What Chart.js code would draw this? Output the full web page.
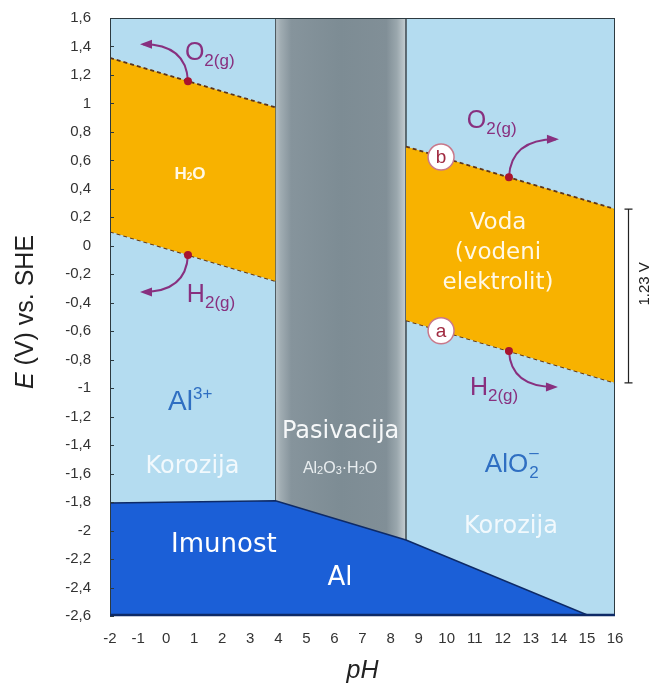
<!DOCTYPE html>
<html>
<head>
<meta charset="utf-8">
<script src="https://cdn.jsdelivr.net/npm/chart.js@4.4.1/dist/chart.umd.min.js"></script>
<style>
html,body{margin:0;padding:0;background:#fff;}
canvas{display:block;}
</style>
</head>
<body>
<canvas id="c" width="657" height="684"></canvas>
<script>
// ---- data ----
const phTicks = [-2,-1,0,1,2,3,4,5,6,7,8,9,10,11,12,13,14,15,16];
const eTicks = [-2.6,-2.4,-2.2,-2,-1.8,-1.6,-1.4,-1.2,-1,-0.8,-0.6,-0.4,-0.2,0,0.2,0.4,0.6,0.8,1,1.2,1.4,1.6];
const eTickLabels = ['-2,6','-2,4','-2,2','-2','-1,8','-1,6','-1,4','-1,2','-1','-0,8','-0,6','-0,4','-0,2','0','0,2','0,4','0,6','0,8','1','1,2','1,4','1,6'];

const passivPH = [3.9, 8.55];          // Al2O3·H2O passivation band edges
const waterLeftPH = [-2, 3.9];
const o2Left = [1.32, 0.972];          // line b (O2 / H2O)
const h2Left = [0.10, -0.248];         // line a (H2 / H2O)
const waterRightPH = [8.55, 16];
const o2Right = [0.697, 0.258];
const h2Right = [-0.523, -0.962];
const immunPH = [-2, 3.9, 8.55, 15.1, 16];
const immunE = [-1.806, -1.79, -2.066, -2.6, -2.6];

const E_MIN = -2.6, E_MAX = 1.6, PH_MIN = -2, PH_MAX = 16;

const pts = (xs, ys) => xs.map((x, i) => ({x, y: ys[i]}));
const lineAt = (xs, ys, x) => ys[0] + (ys[1]-ys[0])*(x-xs[0])/(xs[1]-xs[0]);

const C = {
  lightBlue: '#b4dcf0', orange: '#f8b200', darkBlue: '#1b5fd7', navy: '#0e2a66',
  dash: '#5e3519', purple: '#88307f', dot: '#a8142e', gray: '#7d8c94'
};

function passivGradient(context){
  const chart = context.chart;
  const ca = chart.chartArea;
  if (!ca) return C.gray;
  const xs = chart.scales.x;
  const x0 = xs.getPixelForValue(passivPH[0]), x1 = xs.getPixelForValue(passivPH[1]);
  const g = chart.ctx.createLinearGradient(x0, 0, x1, 0);
  g.addColorStop(0, '#b8c3c8');
  g.addColorStop(0.04, '#a0acb2');
  g.addColorStop(0.12, '#86949c');
  g.addColorStop(0.5, '#7d8c94');
  g.addColorStop(0.85, '#818f97');
  g.addColorStop(0.93, '#9aa7ad');
  g.addColorStop(1, '#c6cfd3');
  return g;
}

// ---- helpers for annotation text ----
function richText(ctx, x, y, parts, align){
  // parts: [text, fontSizePx, dyPx, family, weight]
  let w = 0;
  parts.forEach(p => { ctx.font = `${p[4]||'normal'} ${p[1]}px ${p[3]||'"Liberation Sans", Arial, sans-serif'}`; p.w = ctx.measureText(p[0]).width; w += p.w; });
  let cx = align === 'center' ? x - w/2 : (align === 'right' ? x - w : x);
  ctx.textAlign = 'left';
  ctx.textBaseline = 'alphabetic';
  parts.forEach(p => {
    ctx.font = `${p[4]||'normal'} ${p[1]}px ${p[3]||'"Liberation Sans", Arial, sans-serif'}`;
    ctx.fillText(p[0], cx, y + (p[2]||0));
    cx += p.w;
  });
}

function arrow(ctx, sx, sy, cx, cy, ex, ey, color){
  ctx.save();
  ctx.strokeStyle = color; ctx.fillStyle = color; ctx.lineWidth = 2;
  ctx.beginPath(); ctx.moveTo(sx, sy); ctx.quadraticCurveTo(cx, cy, ex, ey); ctx.stroke();
  const a = Math.atan2(ey - cy, ex - cx);
  const L = 9, W = 4.5;
  ctx.beginPath();
  ctx.moveTo(ex + Math.cos(a)*3, ey + Math.sin(a)*3);
  ctx.lineTo(ex - Math.cos(a)*L + Math.sin(a)*W, ey - Math.sin(a)*L - Math.cos(a)*W);
  ctx.lineTo(ex - Math.cos(a)*L - Math.sin(a)*W, ey - Math.sin(a)*L + Math.cos(a)*W);
  ctx.closePath(); ctx.fill();
  ctx.restore();
}

const bgPlugin = {
  id: 'bg',
  beforeDatasetsDraw(chart){
    const {ctx, chartArea: a} = chart;
    ctx.save();
    ctx.fillStyle = C.lightBlue;
    ctx.fillRect(a.left, a.top, a.right - a.left, a.bottom - a.top);
    ctx.restore();
  }
};

const annPlugin = {
  id: 'ann',
  afterDatasetsDraw(chart){
    const {ctx, chartArea: a} = chart;
    const X = v => chart.scales.x.getPixelForValue(v);
    const Y = v => chart.scales.y.getPixelForValue(v);
    ctx.save();

    // frame
    ctx.strokeStyle = '#2d3a40'; ctx.lineWidth = 1;
    ctx.strokeRect(a.left + 0.5, a.top + 0.5, a.right - a.left - 1, a.bottom - a.top - 1);
    ctx.strokeStyle = C.navy; ctx.lineWidth = 2.5;
    ctx.beginPath(); ctx.moveTo(a.left, a.bottom - 1); ctx.lineTo(a.right, a.bottom - 1); ctx.stroke();
    // small inward ticks on left axis
    ctx.strokeStyle = '#2d3a40'; ctx.lineWidth = 1;
    eTicks.forEach(v => { const y = Math.round(Y(v)) + 0.5; ctx.beginPath(); ctx.moveTo(a.left, y); ctx.lineTo(a.left + 4, y); ctx.stroke(); });

    // reaction dots and arrows
    const dotPH_L = 0.78, dotPH_R = 12.22;
    const dots = [
      [X(dotPH_L), Y(lineAt(waterLeftPH, o2Left, dotPH_L)), -45, -37],
      [X(dotPH_L), Y(lineAt(waterLeftPH, h2Left, dotPH_L)), -45, 37],
      [X(dotPH_R), Y(lineAt(waterRightPH, o2Right, dotPH_R)), 47, -38],
      [X(dotPH_R), Y(lineAt(waterRightPH, h2Right, dotPH_R)), 46, 36]
    ];
    dots.forEach(d => {
      const [x, y, dx, dy] = d;
      arrow(ctx, x, y, x + dx*0.04, y + dy, x + dx, y + dy, C.purple);
    });
    dots.forEach(d => {
      ctx.fillStyle = C.dot;
      ctx.beginPath(); ctx.arc(d[0], d[1], 4, 0, Math.PI*2); ctx.fill();
    });

    // circled a / b
    const circPH = 9.8;
    [[lineAt(waterRightPH, o2Right, circPH), 'b'], [lineAt(waterRightPH, h2Right, circPH), 'a']].forEach(c => {
      const x = X(circPH), y = Y(c[0]);
      ctx.beginPath(); ctx.arc(x, y, 13, 0, Math.PI*2);
      ctx.fillStyle = '#ffffff'; ctx.fill();
      ctx.strokeStyle = '#c9788a'; ctx.lineWidth = 1.5; ctx.stroke();
      ctx.fillStyle = '#a02a40';
      ctx.font = '19px "Liberation Sans", Arial, sans-serif';
      ctx.textAlign = 'center'; ctx.textBaseline = 'middle';
      ctx.fillText(c[1], x, y + 1);
    });

    // gas labels
    ctx.fillStyle = C.purple;
    richText(ctx, X(0.67), Y(1.368) + 9, [['O', 25], ['2(g)', 17, 6]], 'left');
    richText(ctx, X(0.74), Y(-0.331) + 9, [['H', 25], ['2(g)', 17, 6]], 'left');
    richText(ctx, X(10.72), Y(0.891) + 9, [['O', 25], ['2(g)', 17, 6]], 'left');
    richText(ctx, X(10.83), Y(-0.984) + 9, [['H', 25], ['2(g)', 17, 6]], 'left');

    // water labels
    ctx.fillStyle = '#fff8e6';
    richText(ctx, X(0.85), Y(0.512) + 6, [['H', 17, 0, null, 'bold'], ['2', 10, 1, null, 'bold'], ['O', 17, 0, null, 'bold']], 'center');
    const dv = '"DejaVu Sans", Verdana, sans-serif';
    ctx.font = `23px ${dv}`; ctx.textAlign = 'center'; ctx.textBaseline = 'middle';
    ctx.fillText('Voda', X(11.83), Y(0.160));
    ctx.fillText('(vodeni', X(11.83), Y(-0.050));
    ctx.fillText('elektrolit)', X(11.83), Y(-0.261));

    // region labels
    ctx.fillStyle = '#2f6fc2';
    richText(ctx, X(0.07), Y(-1.083) + 10, [['Al', 28], ['3+', 17, -11]], 'left');
    // AlO2-
    ctx.font = '26px "Liberation Sans", Arial, sans-serif';
    const wAlO = ctx.measureText('AlO').width;
    const ax = X(12.33) - (wAlO + 11)/2, ay = Y(-1.525) + 9;
    ctx.textAlign = 'left'; ctx.textBaseline = 'alphabetic';
    ctx.fillText('AlO', ax, ay);
    ctx.font = '17px "Liberation Sans", Arial, sans-serif';
    ctx.fillText('2', ax + wAlO + 1, ay + 6);
    ctx.fillText('\u2013', ax + wAlO + 1, ay - 14);

    ctx.fillStyle = 'rgba(255,255,255,0.82)';
    ctx.font = `24px ${dv}`; ctx.textAlign = 'center'; ctx.textBaseline = 'middle';
    ctx.fillText('Korozija', X(0.94), Y(-1.553));
    ctx.fillText('Korozija', X(12.29), Y(-1.974));

    ctx.fillStyle = '#f6f8f9';
    ctx.fillText('Pasivacija', X(6.22), Y(-1.307));
    ctx.fillStyle = '#e9eef0';
    richText(ctx, X(6.2), Y(-1.553) + 6, [['Al', 16], ['2', 11, 1], ['O', 16], ['3', 11, 1], ['\u00b7', 16], ['H', 16], ['2', 11, 1], ['O', 16]], 'center');

    ctx.fillStyle = '#ffffff';
    ctx.font = `26px ${dv}`; ctx.textAlign = 'center'; ctx.textBaseline = 'middle';
    ctx.fillText('Imunost', X(2.06), Y(-2.101));
    ctx.fillText('Al', X(6.2), Y(-2.333));

    // 1.23 V bracket
    const by0 = Y(o2Right[1]), by1 = Y(h2Right[1]);
    const bx = a.right + 13.5;
    ctx.strokeStyle = '#222'; ctx.lineWidth = 1.2;
    ctx.beginPath(); ctx.moveTo(bx, by0); ctx.lineTo(bx, by1);
    ctx.moveTo(bx - 4, by0); ctx.lineTo(bx + 4, by0);
    ctx.moveTo(bx - 4, by1); ctx.lineTo(bx + 4, by1);
    ctx.stroke();
    ctx.save();
    ctx.translate(bx + 16, (by0 + by1)/2 - 12);
    ctx.rotate(-Math.PI/2);
    ctx.fillStyle = '#222';
    ctx.font = '15px "Liberation Sans", Arial, sans-serif';
    ctx.textAlign = 'center'; ctx.textBaseline = 'middle';
    ctx.fillText('1.23 V', 0, 0);
    ctx.restore();

    ctx.restore();
  },
  afterDraw(chart){
    const {ctx, chartArea: a} = chart;
    ctx.save();
    ctx.fillStyle = '#222';
    // y axis title: "E (V) vs. SHE" with italic E
    ctx.translate(33, (a.top + a.bottom)/2 - 5);
    ctx.rotate(-Math.PI/2);
    const f = '"Liberation Sans", Arial, sans-serif';
    ctx.font = `italic 25px ${f}`;
    const w1 = ctx.measureText('E').width;
    ctx.font = `25px ${f}`;
    const w2 = ctx.measureText(' (V) vs. SHE').width;
    const sx = -(w1 + w2)/2;
    ctx.textAlign = 'left'; ctx.textBaseline = 'alphabetic';
    ctx.font = `italic 25px ${f}`; ctx.fillText('E', sx, 0);
    ctx.font = `25px ${f}`; ctx.fillText(' (V) vs. SHE', sx + w1, 0);
    ctx.restore();
    ctx.save();
    ctx.fillStyle = '#222';
    ctx.font = `italic 25px ${f}`;
    ctx.textAlign = 'center'; ctx.textBaseline = 'alphabetic';
    ctx.fillText('pH', (a.left + a.right)/2, 678);
    ctx.restore();
  }
};

const dashLine = (data, fill, color) => ({
  data, fill, backgroundColor: color, borderColor: C.dash, borderWidth: 1.8,
  borderDash: [4, 3], pointRadius: 0, tension: 0, order: 3
});

new Chart(document.getElementById('c'), {
  type: 'line',
  data: {
    datasets: [
      { data: pts(passivPH, passivPH.map(() => E_MAX)), fill: 'start', backgroundColor: passivGradient,
        borderWidth: 0, pointRadius: 0, order: 6 },
      { data: pts([passivPH[0], passivPH[0]], [E_MAX, E_MIN]), fill: false, borderColor: '#4f5c63', borderWidth: 1, pointRadius: 0, order: 5 },
      { data: pts([passivPH[1], passivPH[1]], [E_MAX, E_MIN]), fill: false, borderColor: '#4f5c63', borderWidth: 1, pointRadius: 0, order: 5 },
      dashLine(pts(waterLeftPH, o2Left), '+1', C.orange),
      dashLine(pts(waterLeftPH, h2Left), false, C.orange),
      dashLine(pts(waterRightPH, o2Right), '+1', C.orange),
      dashLine(pts(waterRightPH, h2Right), false, C.orange),
      { data: pts(immunPH, immunE), fill: 'start', backgroundColor: C.darkBlue, borderColor: C.navy,
        borderWidth: 1.5, pointRadius: 0, tension: 0, order: 1 }
    ]
  },
  options: {
    responsive: false,
    animation: false,
    events: [],
    layout: { padding: { left: 0, right: 42, top: 18, bottom: 0 } },
    plugins: { legend: { display: false }, tooltip: { enabled: false } },
    scales: {
      x: {
        type: 'linear', min: PH_MIN, max: PH_MAX,
        afterFit(s){ s.height = 68; },
        afterBuildTicks(s){ s.ticks = phTicks.map(v => ({value: v})); },
        ticks: { font: { size: 15, family: '"Liberation Sans", Arial, sans-serif' }, color: '#333', padding: 14, maxRotation: 0, autoSkip: false,
                 callback: (v) => String(v) },
        grid: { display: false, drawTicks: false },
        border: { display: false }
      },
      y: {
        type: 'linear', min: E_MIN, max: E_MAX,
        afterFit(s){ s.width = 110; },
        afterBuildTicks(s){ s.ticks = eTicks.map(v => ({value: v})); },
        ticks: { font: { size: 15, family: '"Liberation Sans", Arial, sans-serif' }, color: '#333', padding: 0, autoSkip: false,
                 callback: (v, i) => eTickLabels[i] },
        grid: { display: true, drawOnChartArea: false, drawTicks: true, tickLength: 19, color: 'rgba(0,0,0,0)' },
        border: { display: false }
      }
    }
  },
  plugins: [bgPlugin, annPlugin]
});
</script>
</body>
</html>
